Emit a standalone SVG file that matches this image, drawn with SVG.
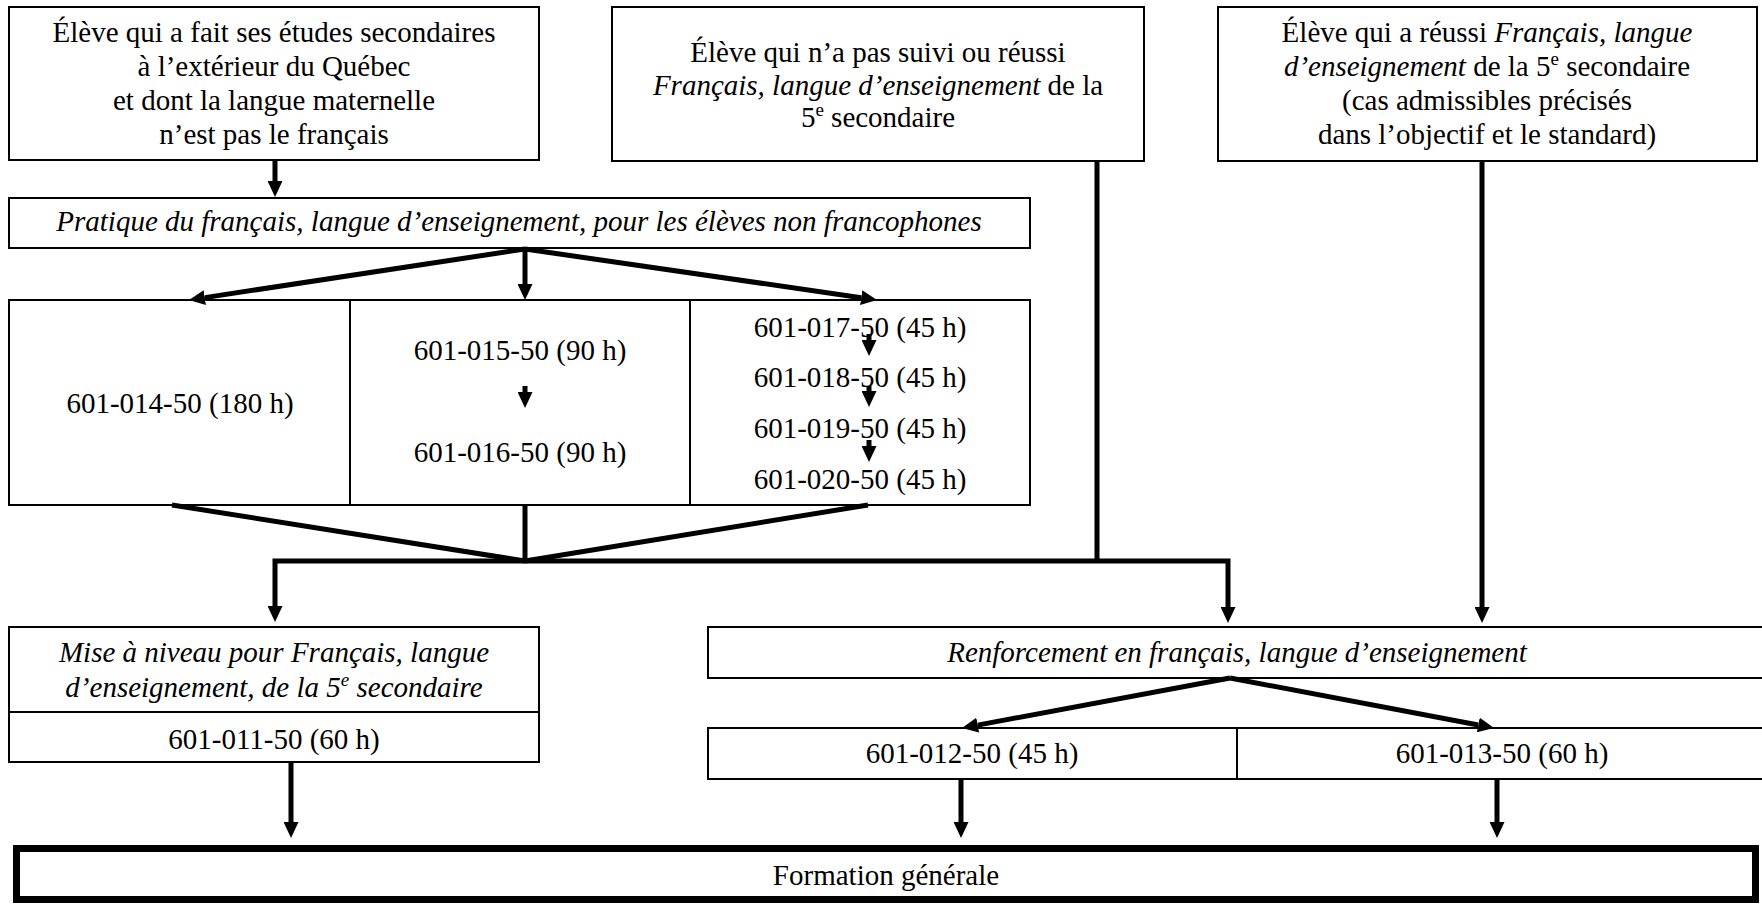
<svg xmlns="http://www.w3.org/2000/svg" width="1762" height="905" viewBox="0 0 1762 905">
<style>
  .box { fill: #fff; stroke: #000; stroke-width: 2; }
  .div { stroke: #000; stroke-width: 2; fill: none; }
  .thick { fill: #fff; stroke: #000; stroke-width: 7; }
  .t { font-family: "Liberation Serif", "Times New Roman", serif; font-size: 29px; fill: #000; text-anchor: middle; }
  .i { font-style: italic; }
  .sup { font-size: 19px; }
  .c { stroke: #000; stroke-width: 5; fill: none; }
  .ca { stroke: #000; stroke-width: 5; fill: none; marker-end: url(#ah); }
</style>
<defs>
  <marker id="ah" viewBox="0 -7.5 16 15" markerWidth="16" markerHeight="15" refX="0" refY="0" markerUnits="userSpaceOnUse" orient="auto">
    <path d="M0,-7.5 L16,0 L0,7.5 z" fill="#000"/>
  </marker>
</defs>
<rect width="1762" height="905" fill="#fff"/>

<g id="node-eleve-exterieur">
  <rect class="box" x="9" y="7" width="530" height="153"/>
  <text class="t" x="274" y="42">Élève qui a fait ses études secondaires</text>
  <text class="t" x="274" y="76">à l’extérieur du Québec</text>
  <text class="t" x="274" y="110">et dont la langue maternelle</text>
  <text class="t" x="274" y="144">n’est pas le français</text>
</g>

<g id="node-eleve-non-reussi">
  <rect class="box" x="612" y="7" width="532" height="154"/>
  <text class="t" x="878" y="62">Élève qui n’a pas suivi ou réussi</text>
  <text class="t" x="878" y="95"><tspan class="i">Français, langue d’enseignement</tspan> de la</text>
  <text class="t" x="878" y="127">5<tspan class="sup" dy="-11">e</tspan><tspan dy="11"> secondaire</tspan></text>
</g>

<g id="node-eleve-reussi">
  <rect class="box" x="1218" y="7" width="539" height="154"/>
  <text class="t" x="1487" y="42">Élève qui a réussi <tspan class="i">Français, langue</tspan></text>
  <text class="t" x="1487" y="76"><tspan class="i">d’enseignement</tspan> de la 5<tspan class="sup" dy="-11">e</tspan><tspan dy="11"> secondaire</tspan></text>
  <text class="t" x="1487" y="110">(cas admissibles précisés</text>
  <text class="t" x="1487" y="144">dans l’objectif et le standard)</text>
</g>

<g id="node-pratique">
  <rect class="box" x="9" y="198" width="1021" height="50"/>
  <text class="t i" x="519" y="231">Pratique du français, langue d’enseignement, pour les élèves non francophones</text>
</g>

<g id="node-cours-pratique">
  <rect class="box" x="9" y="300" width="1021" height="205"/>
  <line class="div" x1="350" y1="300" x2="350" y2="505"/>
  <line class="div" x1="690" y1="300" x2="690" y2="505"/>
  <text class="t" x="180" y="413">601-014-50 (180 h)</text>
  <text class="t" x="520" y="360">601-015-50 (90 h)</text>
  <text class="t" x="520" y="462">601-016-50 (90 h)</text>
  <text class="t" x="860" y="337">601-017-50 (45 h)</text>
  <text class="t" x="860" y="387">601-018-50 (45 h)</text>
  <text class="t" x="860" y="438">601-019-50 (45 h)</text>
  <text class="t" x="860" y="489">601-020-50 (45 h)</text>
</g>

<g id="node-mise-a-niveau">
  <rect class="box" x="9" y="627" width="530" height="135"/>
  <line class="div" x1="9" y1="712" x2="539" y2="712"/>
  <text class="t i" x="274" y="662">Mise à niveau pour Français, langue</text>
  <text class="t i" x="274" y="697">d’enseignement, de la 5<tspan class="sup" dy="-11">e</tspan><tspan dy="11"> secondaire</tspan></text>
  <text class="t" x="274" y="749">601-011-50 (60 h)</text>
</g>

<g id="node-renforcement">
  <rect class="box" x="708" y="627" width="1060" height="51"/>
  <text class="t i" x="1237" y="662">Renforcement en français, langue d’enseignement</text>
</g>

<g id="node-cours-renforcement">
  <rect class="box" x="708" y="728" width="1060" height="51"/>
  <line class="div" x1="1237" y1="728" x2="1237" y2="779"/>
  <text class="t" x="972" y="763">601-012-50 (45 h)</text>
  <text class="t" x="1502" y="763">601-013-50 (60 h)</text>
</g>

<g id="node-formation-generale">
  <rect class="thick" x="16.5" y="848.5" width="1739" height="51"/>
  <text class="t" x="886" y="885">Formation générale</text>
</g>

<g id="connectors">
  <path class="ca" d="M275,160 V181"/>
  <path class="ca" d="M525,249 L204.8,297.6"/>
  <path class="ca" d="M525,249 V284"/>
  <path class="ca" d="M525,249 L861.2,297.7"/>
  <path class="ca" d="M525,386 V392"/>
  <path class="ca" d="M869,334 V340"/>
  <path class="ca" d="M869,386 V391"/>
  <path class="ca" d="M869,440 V446"/>
  <path class="c" d="M172,505 L525,561"/>
  <path class="c" d="M525,505 V561"/>
  <path class="c" d="M868,505 L525,561"/>
  <path class="ca" d="M525,561 H275 V606"/>
  <path class="ca" d="M525,561 H1228 V607"/>
  <path class="c" d="M1097,161 V561"/>
  <path class="ca" d="M1482,161 V607"/>
  <path class="ca" d="M1230,678 L977.7,725.1"/>
  <path class="ca" d="M1230,678 L1478.3,725"/>
  <path class="ca" d="M291,762 V822"/>
  <path class="ca" d="M961,779 V822"/>
  <path class="ca" d="M1497,779 V822"/>
</g>
</svg>
